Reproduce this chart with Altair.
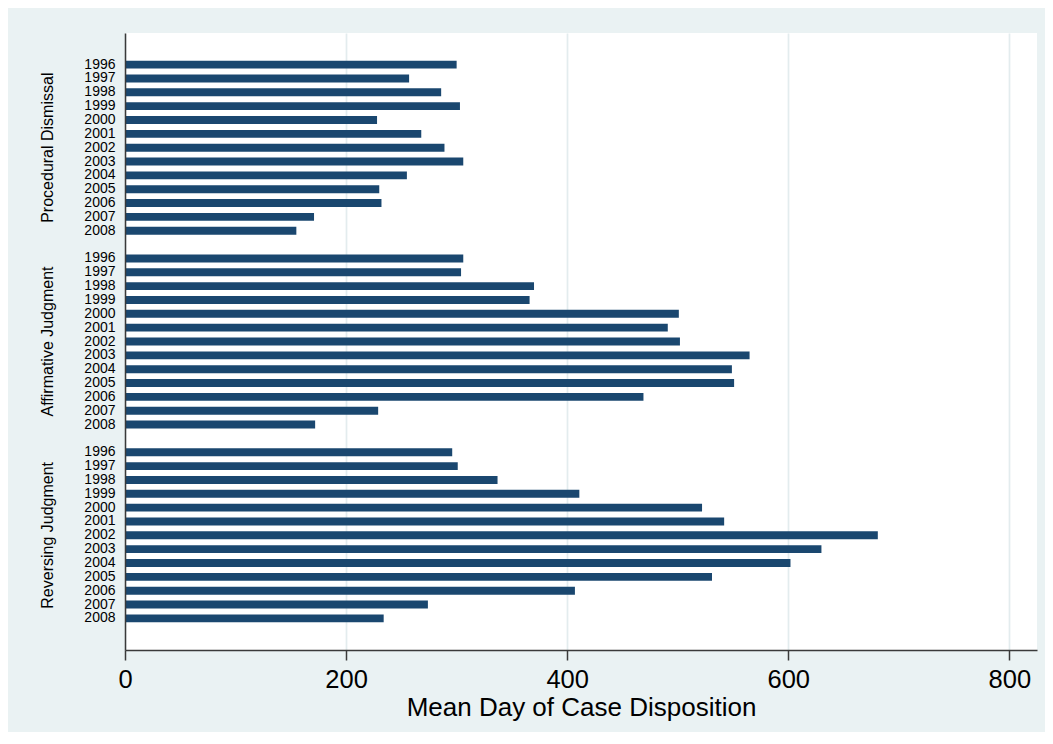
import altair as alt
import pandas as pd

years = [1996, 1997, 1998, 1999, 2000, 2001, 2002, 2003, 2004, 2005, 2006, 2007, 2008]
groups = ["Procedural Dismissal", "Affirmative Judgment", "Reversing Judgment"]
procedural = [300, 257, 286, 303, 228, 268, 289, 306, 255, 230, 232, 171, 155]
affirmative = [306, 304, 370, 366, 501, 491, 502, 565, 549, 551, 469, 229, 172]
reversing = [296, 301, 337, 411, 522, 542, 681, 630, 602, 531, 407, 274, 234]
x_ticks = [0, 200, 400, 600, 800]

series = [procedural, affirmative, reversing]
rows = []
domain = ["pad_top"]
for gi, (g, vals) in enumerate(zip(groups, series)):
    if gi > 0:
        domain.append(f"gap{gi}")
    for yr, v in zip(years, vals):
        key = f"{g}|{yr}"
        domain.append(key)
        rows.append({"key": key, "group": g, "year": yr, "value": v})
domain.append("pad_bottom")
df = pd.DataFrame(rows)

lab_df = pd.DataFrame({"group": groups, "key": [f"{g}|2002" for g in groups]})

FONT = "Liberation Sans"
DARK = "#3a3a3a"

y_enc = alt.Y(
    "key:N",
    scale=alt.Scale(domain=domain, paddingInner=0.43, paddingOuter=1.0),
    axis=alt.Axis(
        title=None,
        ticks=False,
        grid=False,
        labelExpr="indexof(datum.value, '|') >= 0 ? split(datum.value, '|')[1] : ''",
        labelFont=FONT,
        labelFontSize=14,
        labelColor="black",
        labelPadding=10,
        domainColor=DARK,
        domainWidth=1.5,
        zindex=1,
    ),
)

bars = alt.Chart(df).mark_bar(color="#1a476f").encode(
    x=alt.X(
        "value:Q",
        scale=alt.Scale(domain=[0, 825], nice=False, zero=True),
        axis=alt.Axis(
            values=x_ticks,
            grid=True,
            gridColor="#e3ecee",
            gridWidth=1.7,
            domainColor=DARK,
            domainWidth=1.5,
            tickColor=DARK,
            tickWidth=1.5,
            tickSize=10,
            labelFont=FONT,
            labelFontSize=25.5,
            labelColor="black",
            labelPadding=7,
            labelFlush=False,
            title="Mean Day of Case Disposition",
            titleFont=FONT,
            titleFontSize=26,
            titleFontWeight="normal",
            titleColor="black",
            titleBaseline="alphabetic",
            titleY=65,
        ),
    ),
    y=y_enc,
)

labels = alt.Chart(lab_df).mark_text(
    angle=270, font=FONT, fontSize=16, color="black", align="center", baseline="middle"
).encode(
    x=alt.value(-77),
    y=y_enc,
    text="group:N",
)

chart = (
    alt.layer(bars, labels)
    .properties(
        width=912,
        height=617,
        autosize=alt.AutoSizeParams(type="none"),
        padding={"left": 117, "top": 25, "right": 8, "bottom": 82},
        background="#EAF2F3",
    )
    .configure_view(fill="white", strokeWidth=0)
)

chart.save("out.html", embed_options={"renderer": "svg", "actions": False})
